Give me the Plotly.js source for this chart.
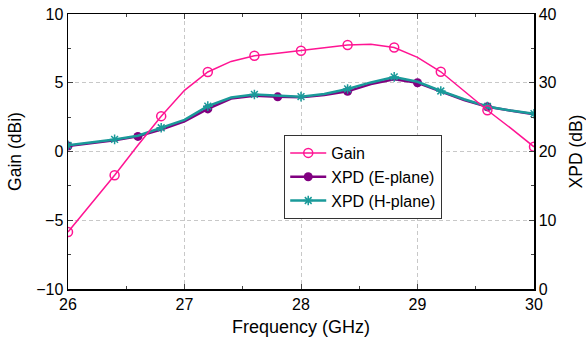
<!DOCTYPE html>
<html>
<head>
<meta charset="utf-8">
<script src="https://cdn.plot.ly/plotly-3.0.1.min.js"></script>
<style>html,body{margin:0;padding:0;background:#fff;}#chart{width:586px;height:345px;}</style>
</head>
<body>
<div id="chart"></div>
<script>
// Frequency samples (GHz)
const freq = [26.0, 26.2, 26.4, 26.6, 26.8, 27.0, 27.2, 27.4, 27.6, 27.8, 28.0, 28.2, 28.4, 28.6, 28.8, 29.0, 29.2, 29.4, 29.6, 29.8, 30.0];
// Gain (dBi)
const gain = [-5.85, -3.8, -1.73, 0.45, 2.57, 4.45, 5.78, 6.55, 6.96, 7.15, 7.33, 7.55, 7.74, 7.8, 7.56, 6.85, 5.8, 4.4, 3.0, 1.7, 0.34];
// XPD (dB)
const xpdE = [20.8, 21.2, 21.65, 22.2, 23.2, 24.4, 26.2, 27.7, 28.1, 27.95, 27.9, 28.2, 28.75, 29.8, 30.5, 30.0, 28.7, 27.5, 26.5, 25.9, 25.4];
const xpdH = [20.9, 21.3, 21.76, 22.3, 23.45, 24.6, 26.6, 27.85, 28.3, 28.1, 27.98, 28.35, 29.1, 30.05, 30.85, 30.15, 28.8, 27.6, 26.55, 25.95, 25.5];
// Which samples carry a marker
const gainMarked = freq.map((f, i) => i % 2 === 0);
const eMarked = freq.map((f, i) => i % 3 === 0 && i < 20);
const hMarked = freq.map((f, i) => i % 2 === 0);

const cGain = '#FF1493', cE = '#800080', cH = '#1A9A9A';
const T = 'rgba(0,0,0,0)';
const font = "'Liberation Sans', Arial, sans-serif";

const traces = [
  {x: freq, y: xpdE, yaxis: 'y', name: 'XPD (E-plane)', mode: 'lines+markers',
   line: {color: cE, width: 2.5},
   marker: {symbol: 'circle', size: 9, color: eMarked.map(m => m ? cE : T), line: {width: 0}}},
  {x: freq, y: xpdH, yaxis: 'y', name: 'XPD (H-plane)', mode: 'lines+markers',
   line: {color: cH, width: 2.5},
   marker: {symbol: 'asterisk-open', size: 8, color: hMarked.map(m => m ? cH : T), line: {width: 1.5, color: hMarked.map(m => m ? cH : T)}}},
  {x: freq, y: gain, yaxis: 'y2', name: 'Gain', mode: 'lines+markers',
   line: {color: cGain, width: 1.5},
   marker: {symbol: 'circle-open', size: 9, color: gainMarked.map(m => m ? cGain : T), line: {width: 1.5, color: gainMarked.map(m => m ? cGain : T)}}}
];

const layout = {
  width: 586, height: 345,
  margin: {l: 67.5, r: 52, t: 14, b: 56},
  paper_bgcolor: '#fff', plot_bgcolor: '#fff',
  font: {family: font, size: 16, color: '#000'},
  showlegend: true,
  legend: {x: 0.464, y: 0.56, xanchor: 'left', yanchor: 'top', bgcolor: '#fff',
           bordercolor: '#333', borderwidth: 1, font: {family: font, size: 16, color: '#000'},
           traceorder: 'normal', tracegroupgap: 0, itemwidth: 36},
  xaxis: {range: [26, 30], dtick: 1, tick0: 26, ticks: 'inside', ticklen: 5, tickwidth: 1,
          showline: true, linecolor: '#000', linewidth: 1.5, mirror: 'ticks',
          showgrid: true, gridcolor: '#c8c8c8', griddash: '4px,3px', gridwidth: 1,
          zeroline: false, tickfont: {size: 16},
          minor: {dtick: 0.5, ticks: 'inside', ticklen: 3, showgrid: false},
          title: {text: 'Frequency (GHz)', font: {size: 18}, standoff: 8}},
  yaxis: {range: [0, 40], dtick: 10, side: 'right', ticks: 'inside', ticklen: 5,
          showline: true, linecolor: '#000', linewidth: 1.5,
          showgrid: true, gridcolor: '#c8c8c8', griddash: '4px,3px', gridwidth: 1,
          zeroline: false, tickfont: {size: 16},
          minor: {dtick: 5, ticks: 'inside', ticklen: 3, showgrid: false},
          title: {text: 'XPD (dB)', font: {size: 17.5}, standoff: 16}},
  yaxis2: {range: [-10, 10], dtick: 5, side: 'left', overlaying: 'y', ticks: 'inside', ticklen: 5,
           showline: true, linecolor: '#000', linewidth: 1.5, showgrid: false, zeroline: false,
           tickfont: {size: 16},
           minor: {dtick: 2.5, ticks: 'inside', ticklen: 3, showgrid: false},
           title: {text: 'Gain (dBi)', font: {size: 17.5}, standoff: 10}}
};

// legend order: Gain, XPD (E-plane), XPD (H-plane)
traces[2].legendrank = 1; traces[0].legendrank = 2; traces[1].legendrank = 3;

Plotly.newPlot('chart', traces, layout, {displayModeBar: false, staticPlot: true});
</script>
</body>
</html>
